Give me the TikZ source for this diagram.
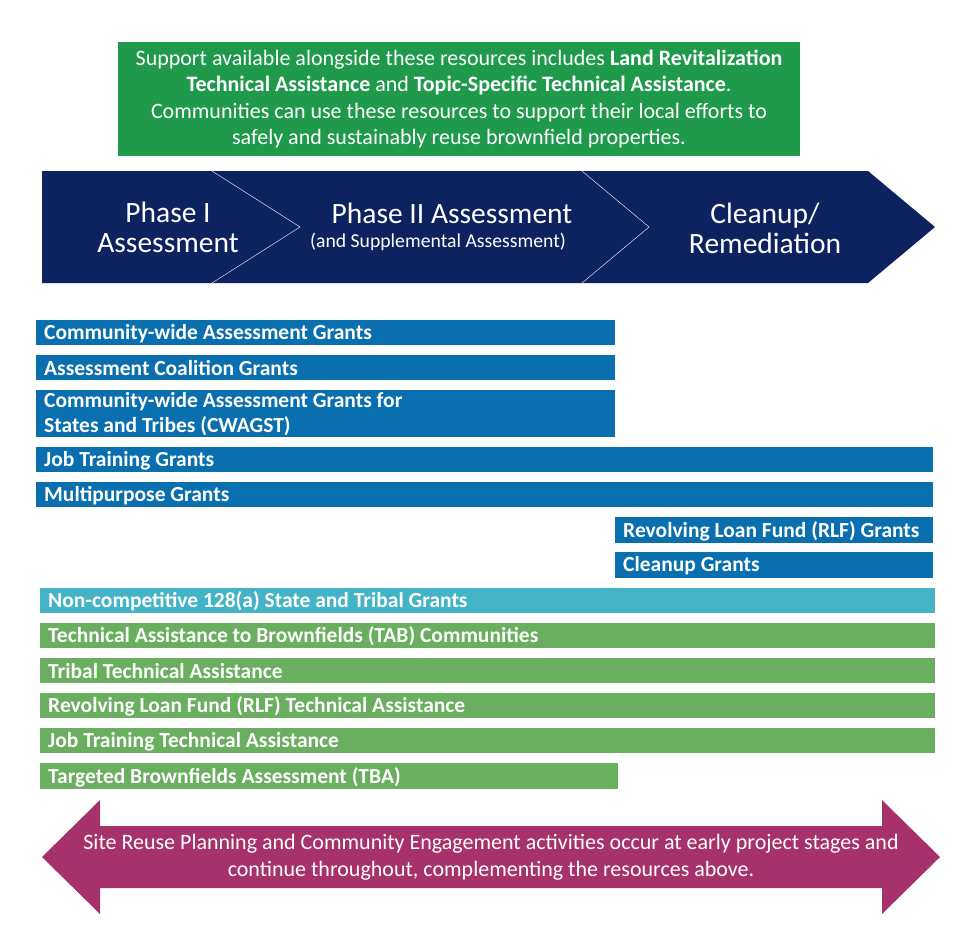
\documentclass[tikz,border=0pt]{standalone}
\usepackage{fontspec}
\setmainfont{Carlito}
\usepackage{xcolor}
\usetikzlibrary{calc}
\definecolor{topgreen}{HTML}{1E9A4A}
\definecolor{navy}{HTML}{0D2360}
\definecolor{barblue}{HTML}{0A6FAE}
\definecolor{barteal}{HTML}{45B3C6}
\definecolor{bargreen}{HTML}{6AAE5F}
\definecolor{magenta}{HTML}{A6316B}
\begin{document}
\begin{tikzpicture}[x=1pt, y=-1pt,
  bar/.style={anchor=west, inner sep=0pt, text=white, font=\fontsize{21.5}{25}\selectfont\bfseries},
  phase/.style={text=white, align=center, font=\fontsize{29.5}{30}\selectfont}]
  \useasboundingbox (0,0) rectangle (960,927);
  % top box
  \fill[topgreen] (118,42) rectangle (800,156);
  \node[text=white, align=center, font=\fontsize{22}{26.5}\selectfont] (intro) at (459,99)
    {Support available alongside these resources includes \textbf{Land Revitalization}\\
     \textbf{Technical Assistance} and \textbf{Topic-Specific Technical Assistance}.\\
     Communities can use these resources to support their local efforts to\\
     safely and sustainably reuse brownfield properties.};
  % phase chevrons
  \fill[navy] (42,171) -- (868,171) -- (935,227) -- (868,283) -- (42,283) -- cycle;
  \draw[white, thin] (212,171) -- (300,227) -- (212,283);
  \draw[white, thin] (582,171) -- (649,227) -- (582,283);
  \node[phase] (phaseone) at (168,227) {Phase I\\Assessment};
  \node[phase] (phasetwo) at (452,213) {Phase II Assessment};
  \node[text=white, font=\fontsize{19.7}{21}\selectfont] (supp) at (438,242) {(and Supplemental Assessment)};
  \node[phase] (cleanup) at (765,228) {Cleanup/\\Remediation};
  % grant bars
  \foreach \x/\y/\w/\h/\c/\t [count=\i] in {
    36/320/579/25/barblue/{Community-wide Assessment Grants},
    36/355/579/25/barblue/{Assessment Coalition Grants},
    36/390/579/47/barblue/{Community-wide Assessment Grants for\\States and Tribes (CWAGST)},
    36/447/897/25/barblue/{Job Training Grants},
    36/482/897/25/barblue/{Multipurpose Grants},
    615/517/318/26/barblue/{Revolving Loan Fund (RLF) Grants},
    615/552/318/26/barblue/{Cleanup Grants},
    40/588/895/25/barteal/{Non-competitive 128(a) State and Tribal Grants},
    40/623/895/25/bargreen/{Technical Assistance to Brownfields (TAB) Communities},
    40/658/895/25/bargreen/{Tribal Technical Assistance},
    40/693/895/25/bargreen/{Revolving Loan Fund (RLF) Technical Assistance},
    40/728/895/25/bargreen/{Job Training Technical Assistance},
    40/763/578/26/bargreen/{Targeted Brownfields Assessment (TBA)}} {
    \fill[\c] (\x,\y) rectangle ++(\w,\h);
    \node[bar, align=left] (bar\i) at (\x+8,\y+\h/2+1) {\t};
  }
  % reuse arrow
  \fill[magenta] (42,857) -- (100,800) -- (100,826) -- (882,826) -- (882,800)
    -- (940,857) -- (882,914) -- (882,888) -- (100,888) -- (100,914) -- cycle;
  \node[text=white, align=center, font=\fontsize{22}{27}\selectfont] (reuse) at (491,857)
    {Site Reuse Planning and Community Engagement activities occur at early project stages and\\
     continue throughout, complementing the resources above.};
\end{tikzpicture}
\end{document}
